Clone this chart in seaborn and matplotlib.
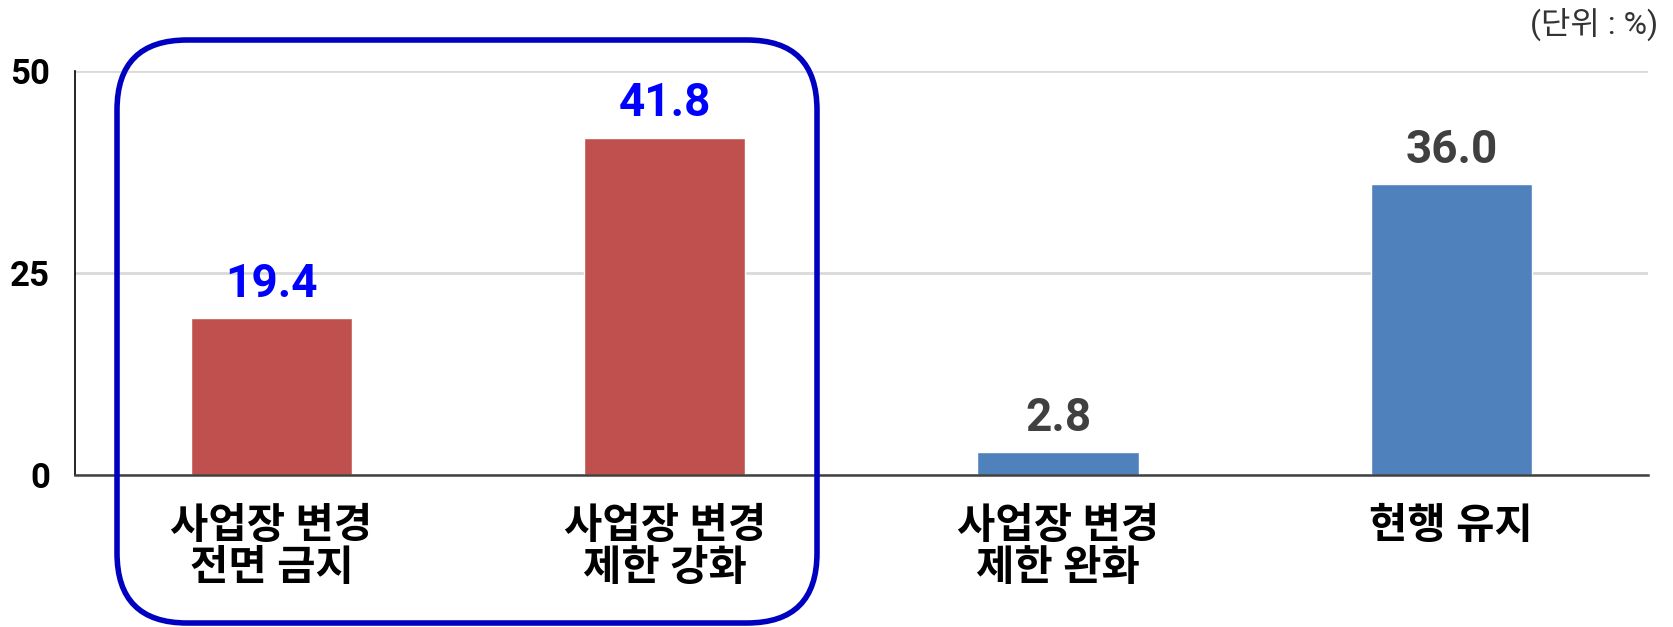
import matplotlib.pyplot as plt
import seaborn as sns
import pandas as pd
from matplotlib.patches import FancyBboxPatch

# data
categories = ["사업장 변경\n전면 금지", "사업장 변경\n제한 강화", "사업장 변경\n제한 완화", "현행 유지"]
values = [19.4, 41.8, 2.8, 36.0]
bar_colors = ["#C0504D", "#C0504D", "#4F81BD", "#4F81BD"]
label_colors = ["#0000FF", "#0000FF", "#404040", "#404040"]
yticks = [0, 25, 50]

sns.set_theme(style="white")
fonts = ["Liberation Sans Narrow", "Roboto", "Noto Sans CJK KR", "DejaVu Sans"]
plt.rcParams["font.family"] = fonts

df = pd.DataFrame({"cat": categories, "val": values})

fig = plt.figure(figsize=(16.73, 6.27), dpi=100)
ax = fig.add_axes([0.0448, 0.2424, 0.985 - 0.0448, 0.886 - 0.2424])

sns.barplot(data=df, x="cat", y="val", hue="cat", palette=bar_colors,
            legend=False, width=0.41, saturation=1, ax=ax, zorder=3)

ax.set_ylim(0, 50)
ax.set_xlim(-0.5, 3.5)
ax.set_yticks(yticks)
ax.set_xlabel("")
ax.set_ylabel("")
ax.yaxis.grid(True, color="#D9D9D9", linewidth=2, zorder=0)
ax.set_axisbelow(True)

for s in ["top", "right"]:
    ax.spines[s].set_visible(False)
ax.spines["left"].set_color("black")
ax.spines["left"].set_linewidth(1.2)
ax.spines["bottom"].set_color("#404040")
ax.spines["bottom"].set_linewidth(1.8)
ax.spines["bottom"].set_zorder(4)

ax.tick_params(axis="y", length=0, pad=18)
ax.tick_params(axis="x", length=0, pad=22)
for t in ax.get_yticklabels():
    t.set_fontsize(25)
    t.set_fontweight("bold")
    t.set_color("black")
for t in ax.get_xticklabels():
    t.set_fontsize(30)
    t.set_fontweight("bold")
    t.set_color("black")
    t.set_linespacing(1.05)
    t.set_verticalalignment("top")

for i, (v, c) in enumerate(zip(values, label_colors)):
    ax.annotate(f"{v:.1f}", (i, v), xytext=(0, 9), textcoords="offset points",
                ha="center", va="bottom", fontsize=33, fontweight="bold", color=c)

fig.text(1658 / 1673, 1 - 8 / 627, "(단위 : %)", ha="right", va="top",
         fontsize=23, color="#333333")

# highlight box
box = FancyBboxPatch((1.17, 0.04), 7.0, 5.83,
                     boxstyle="round,pad=0,rounding_size=0.7",
                     transform=fig.dpi_scale_trans, fill=False,
                     edgecolor="#0000C0", linewidth=4, clip_on=False, zorder=10)
fig.add_artist(box)

fig.savefig("out.png", dpi=100)
